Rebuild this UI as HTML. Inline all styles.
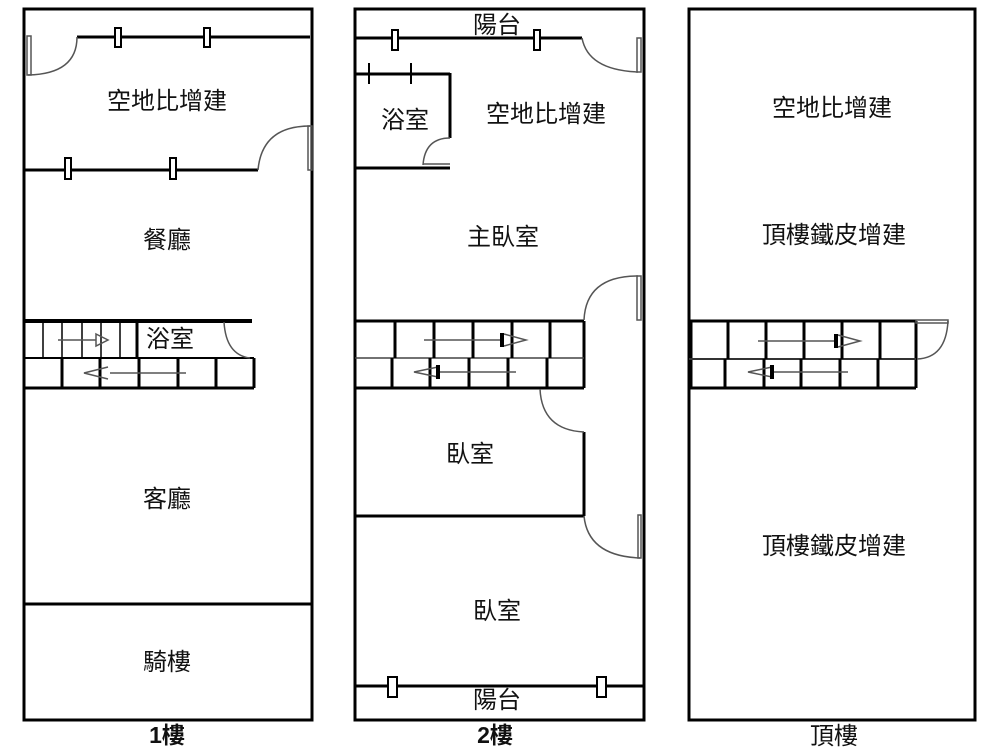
<!DOCTYPE html>
<html><head><meta charset="utf-8"><style>
html,body{margin:0;padding:0;background:#fff;}
svg{display:block}
text{font-family:"Liberation Sans","Noto Sans CJK TC",sans-serif;font-size:24px;fill:#111;text-anchor:middle;}
.b{font-weight:bold;font-size:23px}
</style></head><body>
<svg width="1000" height="750" viewBox="0 0 1000 750">
<g fill="none" stroke="#000" stroke-width="3">
<rect x="24" y="9" width="288" height="711"/>
<line x1="77" y1="37" x2="310" y2="37"/>
<line x1="24" y1="170" x2="258" y2="170"/>
<line x1="24" y1="604" x2="312" y2="604"/>
<line x1="24" y1="321" x2="252" y2="321" stroke-width="4"/>
<line x1="24" y1="358" x2="254" y2="358" stroke-width="2"/>
<line x1="24" y1="388" x2="254" y2="388"/>
<line x1="137" y1="321" x2="137" y2="358"/>
<line x1="254" y1="358" x2="254" y2="388"/>
</g>
<g stroke="#000" stroke-width="1.5">
<line x1="43" y1="322" x2="43" y2="358"/><line x1="62" y1="322" x2="62" y2="358"/>
<line x1="82" y1="322" x2="82" y2="358"/><line x1="101" y1="322" x2="101" y2="358"/>
<line x1="120" y1="322" x2="120" y2="358"/>
</g>
<g stroke="#000" stroke-width="3">
<line x1="62" y1="358" x2="62" y2="388"/><line x1="100" y1="358" x2="100" y2="388"/>
<line x1="139" y1="358" x2="139" y2="388"/><line x1="178" y1="358" x2="178" y2="388"/>
<line x1="216" y1="358" x2="216" y2="388"/>
</g>
<g fill="#fff" stroke="#000" stroke-width="2">
<rect x="115" y="28" width="6" height="19"/><rect x="204" y="28" width="6" height="19"/>
<rect x="65" y="158" width="6" height="21"/><rect x="170" y="158" width="6" height="21"/>
</g>
<g fill="none" stroke="#555" stroke-width="1.5">
<path d="M77 37 Q77 74 28 75"/><rect x="27" y="36" width="4" height="39"/>
<path d="M258 170 Q262 126 310 126"/><rect x="308" y="126" width="4" height="44"/>
<path d="M224 322 Q226 355 250 358"/>
<line x1="58" y1="340" x2="96" y2="340"/><path d="M96 334 L108 340 L96 346 Z"/>
<line x1="110" y1="373" x2="186" y2="373"/><path d="M108 367 L84 373 L108 379"/>
</g>
<text x="167" y="109">空地比增建</text>
<text x="167" y="248">餐廳</text>
<text x="170" y="347">浴室</text>
<text x="167" y="507">客廳</text>
<text x="167" y="670">騎樓</text>
<text x="167" y="743" class="b">1樓</text>

<g fill="none" stroke="#000" stroke-width="3">
<rect x="355" y="9" width="289" height="711"/>
<line x1="355" y1="38" x2="582" y2="38"/>
<line x1="355" y1="74" x2="450" y2="74"/>
<line x1="450" y1="73" x2="450" y2="138"/>
<line x1="355" y1="168" x2="450" y2="168"/>
<line x1="355" y1="321" x2="584" y2="321"/>
<line x1="355" y1="388" x2="584" y2="388"/>
<line x1="584" y1="321" x2="584" y2="388"/>
<line x1="584" y1="432" x2="584" y2="516"/>
<line x1="355" y1="516" x2="584" y2="516"/>
<line x1="355" y1="686" x2="644" y2="686"/>
</g>
<line x1="355" y1="358" x2="584" y2="358" stroke="#444" stroke-width="1.5"/>
<g stroke="#000" stroke-width="3">
<line x1="395" y1="321" x2="395" y2="358"/><line x1="434" y1="321" x2="434" y2="358"/>
<line x1="473" y1="321" x2="473" y2="358"/><line x1="512" y1="321" x2="512" y2="358"/>
<line x1="550" y1="321" x2="550" y2="358"/>
<line x1="392" y1="358" x2="392" y2="388"/><line x1="430" y1="358" x2="430" y2="388"/>
<line x1="469" y1="358" x2="469" y2="388"/><line x1="508" y1="358" x2="508" y2="388"/>
<line x1="547" y1="358" x2="547" y2="388"/>
</g>
<g stroke="#000" stroke-width="2">
<line x1="369" y1="63" x2="369" y2="84"/><line x1="411" y1="63" x2="411" y2="84"/>
</g>
<g fill="#fff" stroke="#000" stroke-width="2">
<rect x="392" y="30" width="6" height="20"/><rect x="534" y="30" width="6" height="20"/>
<rect x="388" y="677" width="9" height="20"/><rect x="597" y="677" width="9" height="20"/>
</g>
<g fill="none" stroke="#555" stroke-width="1.5">
<path d="M582 38 Q588 70 638 72"/><rect x="637" y="38" width="4" height="34"/>
<path d="M423 165 Q425 138 450 138"/><line x1="423" y1="164" x2="450" y2="164"/>
<path d="M584 320 Q586 276 638 276"/><rect x="637" y="276" width="4" height="44"/>
<path d="M540 389 Q542 430 584 432"/>
<path d="M584 516 Q588 556 640 558"/><rect x="638" y="515" width="3" height="43"/>
<line x1="424" y1="340" x2="500" y2="340"/><path d="M504 334 L526 340 L504 346"/>
<line x1="440" y1="372" x2="516" y2="372"/><path d="M438 367 L414 372 L438 377"/>
</g>
<rect x="500" y="333" width="4" height="14" fill="#000"/>
<rect x="436" y="365" width="4" height="14" fill="#000"/>
<text x="497" y="33">陽台</text>
<text x="405" y="128">浴室</text>
<text x="546" y="122">空地比增建</text>
<text x="503" y="245">主臥室</text>
<text x="470" y="462">臥室</text>
<text x="497" y="619">臥室</text>
<text x="497" y="708">陽台</text>
<text x="495" y="743" class="b">2樓</text>

<g fill="none" stroke="#000" stroke-width="3">
<rect x="689" y="9" width="286" height="711"/>
<line x1="689" y1="321" x2="916" y2="321"/>
<line x1="689" y1="388" x2="916" y2="388"/>
<line x1="916" y1="321" x2="916" y2="388"/>
<line x1="690" y1="322" x2="690" y2="388" stroke-width="5"/>
</g>
<line x1="689" y1="359" x2="916" y2="359" stroke="#333" stroke-width="2"/>
<g stroke="#000" stroke-width="3">
<line x1="728" y1="321" x2="728" y2="359"/><line x1="766" y1="321" x2="766" y2="359"/>
<line x1="804" y1="321" x2="804" y2="359"/><line x1="842" y1="321" x2="842" y2="359"/>
<line x1="880" y1="321" x2="880" y2="359"/>
<line x1="725" y1="359" x2="725" y2="388"/><line x1="764" y1="359" x2="764" y2="388"/>
<line x1="801" y1="359" x2="801" y2="388"/><line x1="840" y1="359" x2="840" y2="388"/>
<line x1="878" y1="359" x2="878" y2="388"/>
</g>
<g fill="none" stroke="#555" stroke-width="1.5">
<path d="M917 359 Q946 358 948 321"/><rect x="916" y="320" width="32" height="3"/>
<line x1="758" y1="341" x2="834" y2="341"/><path d="M838 335 L860 341 L838 347"/>
<line x1="774" y1="372" x2="848" y2="372"/><path d="M772 367 L748 372 L772 377"/>
</g>
<rect x="834" y="334" width="4" height="14" fill="#000"/>
<rect x="770" y="365" width="4" height="14" fill="#000"/>
<text x="832" y="116">空地比增建</text>
<text x="834" y="243">頂樓鐵皮增建</text>
<text x="834" y="554">頂樓鐵皮增建</text>
<text x="834" y="744">頂樓</text>
</svg>
</body></html>
